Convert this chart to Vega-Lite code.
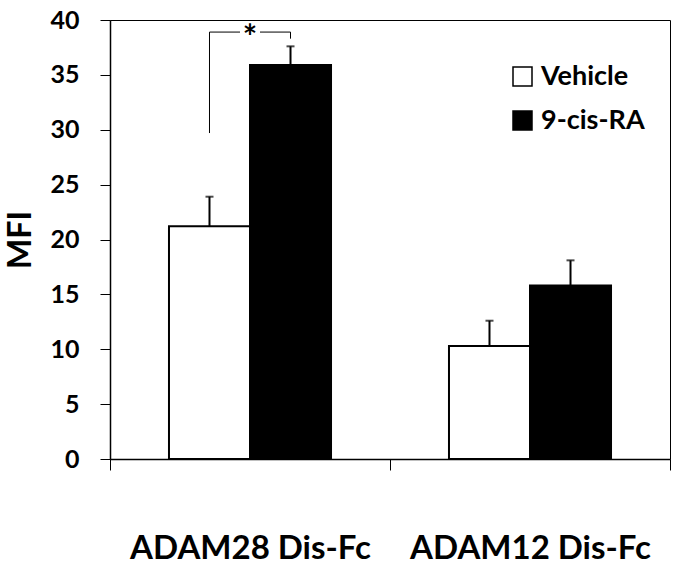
{
  "$schema": "https://vega.github.io/schema/vega-lite/v6.json",
  "width": 560,
  "height": 439,
  "autosize": {"type": "none"},
  "padding": {"left": 110, "top": 20, "right": 13, "bottom": 120},
  "background": "white",
  "config": {
    "view": {"stroke": "black", "strokeWidth": 1},
    "font": "Lato",
    "axis": {"grid": false, "domainColor": "black", "tickColor": "black", "labelColor": "black", "titleColor": "black", "labelFont": "Lato", "titleFont": "Lato", "labelFontWeight": "bold", "titleFontWeight": "bold"}
  },
  "datasets": {
    "bars": [
      {"group": "ADAM28 Dis-Fc", "treatment": "Vehicle", "value": 21.2, "upper": 23.9},
      {"group": "ADAM28 Dis-Fc", "treatment": "9-cis-RA", "value": 35.9, "upper": 37.6},
      {"group": "ADAM12 Dis-Fc", "treatment": "Vehicle", "value": 10.3, "upper": 12.6},
      {"group": "ADAM12 Dis-Fc", "treatment": "9-cis-RA", "value": 15.8, "upper": 18.1}
    ],
    "bracket": [
      {"group": "ADAM28 Dis-Fc", "treatment": "Vehicle", "y": 29.7, "order": 1},
      {"group": "ADAM28 Dis-Fc", "treatment": "Vehicle", "y": 38.9, "order": 2},
      {"group": "ADAM28 Dis-Fc", "treatment": "9-cis-RA", "y": 38.9, "order": 3},
      {"group": "ADAM28 Dis-Fc", "treatment": "9-cis-RA", "y": 38.3, "order": 4}
    ],
    "star": [
      {"group": "ADAM28 Dis-Fc", "y": 38.9, "label": "*"}
    ]
  },
  "layer": [
    {
      "data": {"name": "bars"},
      "mark": {"type": "bar", "stroke": "black", "strokeWidth": 2},
      "encoding": {
        "x": {"field": "group", "type": "nominal", "sort": ["ADAM28 Dis-Fc", "ADAM12 Dis-Fc"],
              "scale": {"paddingInner": 0, "paddingOuter": 0},
              "axis": {"title": null, "labelAngle": 0, "tickBand": "extent", "tickSize": 11, "labelPadding": 62, "labelFontSize": 33, "labelLimit": 0, "domainWidth": 1.5}},
        "xOffset": {"field": "treatment", "type": "nominal", "sort": ["Vehicle", "9-cis-RA"], "scale": {"paddingInner": 0, "paddingOuter": 0.728}},
        "y": {"field": "value", "type": "quantitative", "scale": {"domain": [0, 40]},
              "axis": {"title": "MFI", "values": [0,5,10,15,20,25,30,35,40], "tickSize": 10, "labelPadding": 21, "labelFontSize": 25, "titleFontSize": 32, "titlePadding": 12, "domainWidth": 1.5}},
        "fill": {"field": "treatment", "type": "nominal", "sort": ["Vehicle", "9-cis-RA"],
                 "scale": {"domain": ["Vehicle", "9-cis-RA"], "range": ["white", "black"]},
                 "legend": {"title": null, "orient": "none", "legendX": 399, "legendY": 43, "padding": 0, "symbolType": "square", "symbolSize": 361, "symbolStrokeColor": "black", "symbolStrokeWidth": 1.5, "labelFontSize": 27, "labelFont": "Lato", "labelFontWeight": "bold", "labelColor": "black", "rowPadding": 16, "labelOffset": 5}}
      }
    },
    {
      "data": {"name": "bars"},
      "mark": {"type": "rule", "color": "black", "strokeWidth": 2},
      "encoding": {
        "x": {"field": "group", "type": "nominal", "sort": ["ADAM28 Dis-Fc", "ADAM12 Dis-Fc"]},
        "xOffset": {"field": "treatment", "type": "nominal", "sort": ["Vehicle", "9-cis-RA"]},
        "y": {"field": "value", "type": "quantitative"},
        "y2": {"field": "upper"}
      }
    },
    {
      "data": {"name": "bars"},
      "mark": {"type": "tick", "color": "black", "size": 8, "thickness": 2, "orient": "horizontal"},
      "encoding": {
        "x": {"field": "group", "type": "nominal", "sort": ["ADAM28 Dis-Fc", "ADAM12 Dis-Fc"]},
        "xOffset": {"field": "treatment", "type": "nominal", "sort": ["Vehicle", "9-cis-RA"]},
        "y": {"field": "upper", "type": "quantitative"}
      }
    },
    {
      "data": {"name": "bracket"},
      "mark": {"type": "line", "color": "black", "strokeWidth": 1, "interpolate": "linear"},
      "encoding": {
        "x": {"field": "group", "type": "nominal", "sort": ["ADAM28 Dis-Fc", "ADAM12 Dis-Fc"]},
        "xOffset": {"field": "treatment", "type": "nominal", "sort": ["Vehicle", "9-cis-RA"]},
        "y": {"field": "y", "type": "quantitative"},
        "order": {"field": "order", "type": "quantitative"}
      }
    },
    {
      "data": {"name": "star"},
      "mark": {"type": "square", "fill": "white", "opacity": 1, "size": 400, "strokeWidth": 0},
      "encoding": {
        "x": {"field": "group", "type": "nominal", "sort": ["ADAM28 Dis-Fc", "ADAM12 Dis-Fc"]},
        "y": {"field": "y", "type": "quantitative"}
      }
    },
    {
      "data": {"name": "star"},
      "mark": {"type": "text", "font": "Lato", "fontWeight": "bold", "fontSize": 34, "color": "black", "baseline": "middle", "dy": 7},
      "encoding": {
        "x": {"field": "group", "type": "nominal", "sort": ["ADAM28 Dis-Fc", "ADAM12 Dis-Fc"]},
        "y": {"field": "y", "type": "quantitative"},
        "text": {"field": "label"}
      }
    }
  ]
}
